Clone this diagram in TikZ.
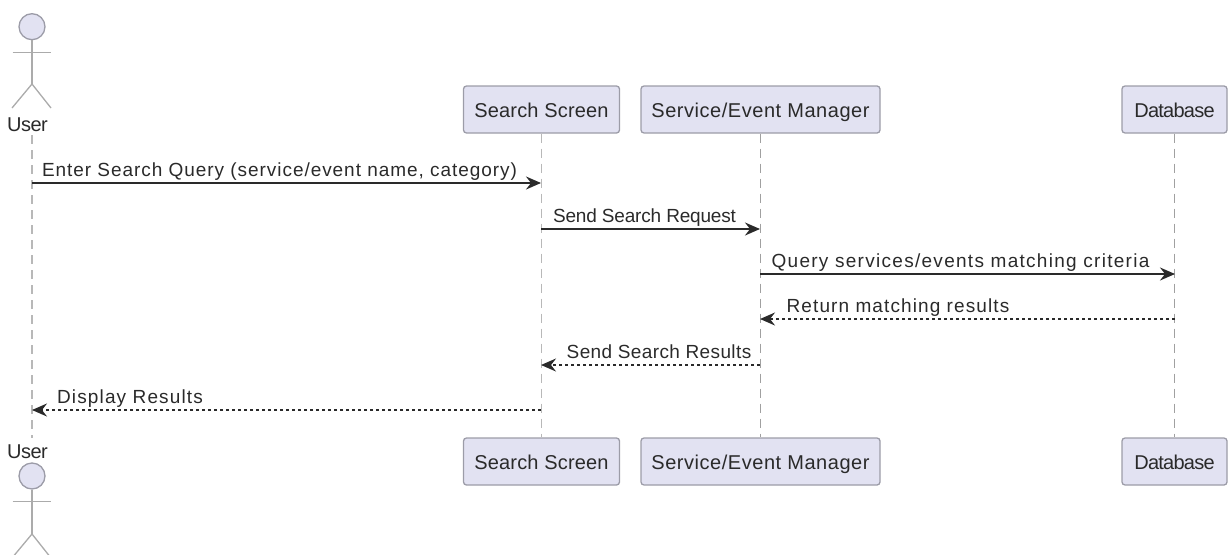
\documentclass[tikz,border=0pt]{standalone}
\usepackage{fontspec}
\setmainfont{Liberation Sans}
\usetikzlibrary{arrows.meta}
\definecolor{fillc}{HTML}{E2E2F2}
\definecolor{edgec}{HTML}{9C9CA8}
\definecolor{stickc}{HTML}{ABABAB}
\definecolor{lifec}{HTML}{A0A0A0}
\definecolor{lifelt}{HTML}{B8B8B8}
\definecolor{inkc}{HTML}{2A2A2A}
\newcommand{\track}[1]{\addfontfeature{LetterSpace=#1}}
\tikzset{
  x=1pt,y=-1pt,
  actorbox/.style={draw=edgec,fill=fillc,line width=1.3pt,rounded corners=3pt,minimum height=47pt,inner sep=0pt,text=inkc,text height=15pt,text depth=0pt,font=\fontsize{20}{22}\selectfont},
  lifeline/.style={draw=lifec,line width=1.1pt,dash pattern=on 9pt off 6pt},
  lifewide/.style={draw=lifelt,line width=1.7pt,dash pattern=on 9pt off 6pt},
  syncmsg/.style={draw=inkc,line width=1.7pt,-{Stealth[length=15pt,width=13pt,inset=5pt]}},
  retmsg/.style={draw=inkc,line width=1.5pt,dash pattern=on 3pt off 3pt,-{Stealth[length=15pt,width=13pt,inset=5pt]}},
  msglabel/.style={inner sep=0pt,text=inkc,anchor=base,font=\fontsize{19}{21}\selectfont},
  userlabel/.style={inner sep=0pt,text=inkc,anchor=base,font=\fontsize{20}{22}\selectfont},
  stick/.style={draw=stickc,line width=1.3pt},
  head/.style={draw=edgec,fill=fillc,line width=1.3pt,circle,minimum size=26pt,inner sep=0pt},
}
\begin{document}
\begin{tikzpicture}
\useasboundingbox (0,0) rectangle (1228,554);
% participants
\node[actorbox,minimum width=156pt] (st) at (541.5,109.5) {\track{0.9}Search Screen};
\node[actorbox,minimum width=239pt] (mt) at (760.5,109.5) {\track{2.7}Service/Event Manager};
\node[actorbox,minimum width=105pt] (dt) at (1174.5,109.5) {\track{-3.8}Database};
\node[actorbox,minimum width=156pt] (sb) at (541.5,461.5) {\track{0.9}Search Screen};
\node[actorbox,minimum width=239pt] (mb) at (760.5,461.5) {\track{2.7}Service/Event Manager};
\node[actorbox,minimum width=105pt] (db) at (1174.5,461.5) {\track{-3.8}Database};
% user, top
\node[head] (ht) at (32,26.7) {};
\coordinate (hipt) at (32,84);
\coordinate (alt) at (12.5,52.5);
\coordinate (art) at (51,52.5);
\coordinate (llt) at (12,108);
\coordinate (lrt) at (51,108);
\draw[stick] (ht) -- (hipt);
\draw[stick] (alt) -- (art);
\draw[stick] (llt) -- (hipt) -- (lrt);
\node[userlabel] (ut) at (27.5,131) {\track{-2.5}User};
% user, bottom
\node[head] (hb) at (32,476) {};
\coordinate (hipb) at (32,534);
\coordinate (alb) at (12.5,501.5);
\coordinate (arb) at (51,501.5);
\coordinate (llb) at (12,558);
\coordinate (lrb) at (51,558);
\draw[stick] (hb) -- (hipb);
\draw[stick] (alb) -- (arb);
\begin{scope}
\clip (0,0) rectangle (1228,554);
\draw[stick] (llb) -- (hipb) -- (lrb);
\end{scope}
\node[userlabel] (ub) at (27.5,458.5) {\track{-2.5}User};
% lifelines
\coordinate (utl) at (32,135);
\coordinate (ubl) at (32,438);
\draw[lifewide] (utl) -- (ubl);
\draw[lifewide] (st) -- (sb);
\draw[lifeline] (mt) -- (mb);
\draw[lifeline] (dt) -- (db);
% message end points
\coordinate (u1) at (32,183);
\coordinate (s1) at (541,183);
\coordinate (s2) at (541,229);
\coordinate (m2) at (760,229);
\coordinate (m3) at (760,274);
\coordinate (d3) at (1175,274);
\coordinate (d4) at (1175,319);
\coordinate (m4) at (760,319);
\coordinate (m5) at (760,365);
\coordinate (s5) at (541,365);
\coordinate (s6) at (541,410);
\coordinate (u6) at (32,410);
\draw[syncmsg] (u1) -- (s1);
\draw[syncmsg] (s2) -- (m2);
\draw[syncmsg] (m3) -- (d3);
\draw[retmsg] (d4) -- (m4);
\draw[retmsg] (m5) -- (s5);
\draw[retmsg] (s6) -- (u6);
% labels
\node[msglabel] (l1) at (279.5,176.5) {\track{5}Enter Search Query (service/event name, category)};
\node[msglabel] (l2) at (644.5,222) {\track{-1}Send Search Request};
\node[msglabel] (l3) at (960.5,267.5) {\track{6.8}Query services/events matching criteria};
\node[msglabel] (l4) at (898,312) {\track{5.8}Return matching results};
\node[msglabel] (l5) at (659,358) {\track{2}Send Search Results};
\node[msglabel] (l6) at (130,403.5) {\track{6}Display Results};
\end{tikzpicture}
\end{document}
